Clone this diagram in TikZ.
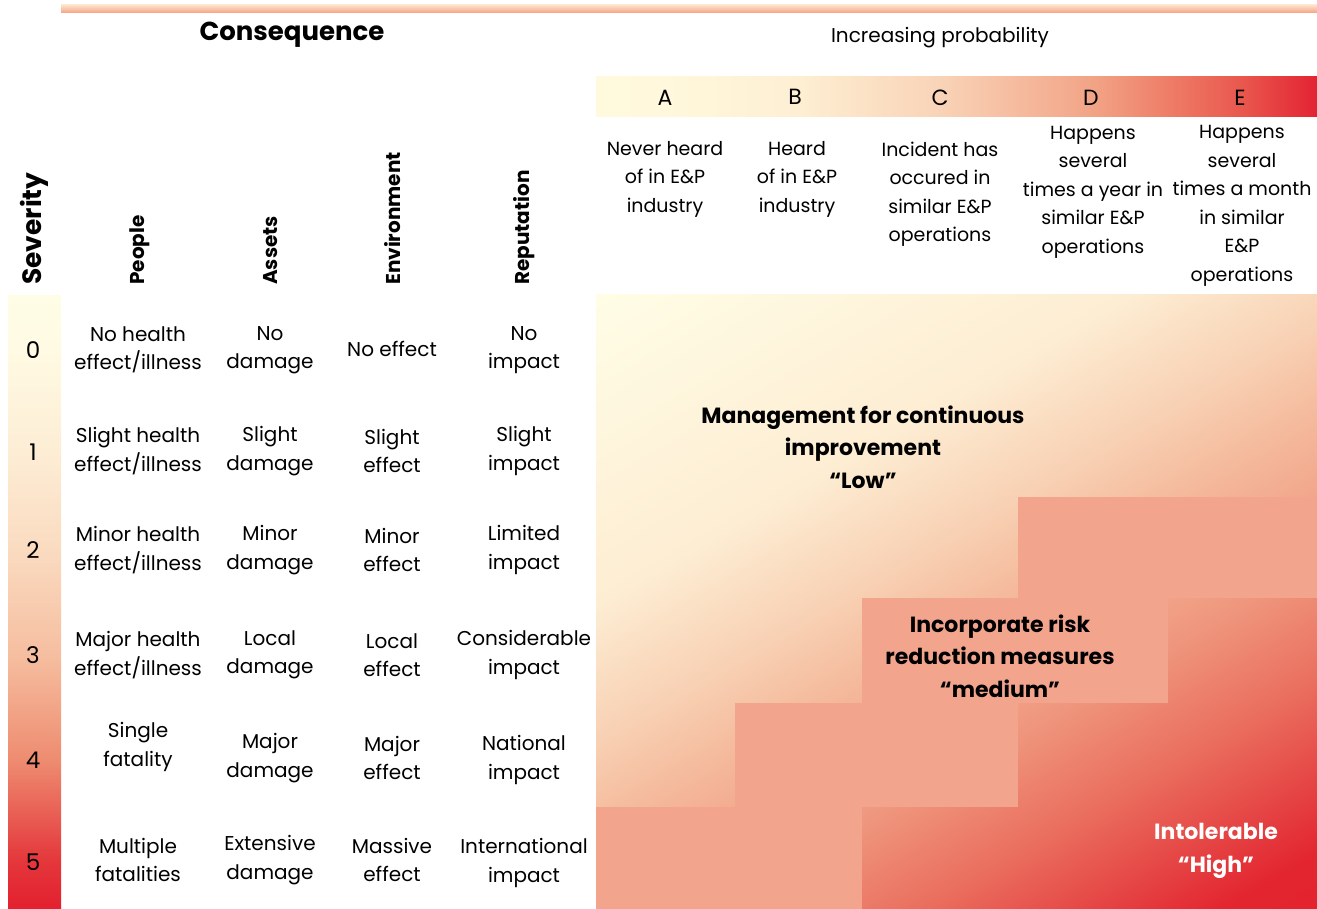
\documentclass[tikz,border=0pt]{standalone}
\usepackage{fontspec}
\setmainfont{Poppins}
\definecolor{cream}{HTML}{FFFDE6}
\definecolor{riskred}{HTML}{E3202F}
\definecolor{medsalmon}{HTML}{F2A48D}
\definecolor{ma}{HTML}{FDEDD3}
\definecolor{mb}{HTML}{F8D0B3}
\definecolor{mc}{HTML}{F4B598}
\definecolor{md}{HTML}{EF977E}
\definecolor{me}{HTML}{EA6E5E}
\definecolor{mf}{HTML}{E54343}
\definecolor{mg}{HTML}{E3252F}
\definecolor{ha}{HTML}{FFF9DE}
\definecolor{hb}{HTML}{FFF8DC}
\definecolor{hc}{HTML}{FEEFD3}
\definecolor{hd}{HTML}{F9D3B7}
\definecolor{he}{HTML}{F2A386}
\definecolor{hf}{HTML}{EE7D67}
\definecolor{hg}{HTML}{E9584E}
\definecolor{hh}{HTML}{E32333}
\definecolor{sa}{HTML}{E4363B}
\definecolor{sb}{HTML}{EE8C70}
\definecolor{sc}{HTML}{F6BEA0}
\definecolor{sd}{HTML}{FADBC0}
\definecolor{se}{HTML}{FDEDD5}
\definecolor{sf}{HTML}{FFFAE3}
\definecolor{bartop}{HTML}{FCE2CB}
\definecolor{barbot}{HTML}{F4A283}
\pgfdeclarehorizontalshading{matrixshade}{100bp}{
  color(0bp)=(cream); color(15.85bp)=(cream);
  color(36.3bp)=(ma); color(45.5bp)=(mb);
  color(52.5bp)=(mc); color(61bp)=(md);
  color(69.1bp)=(me); color(76bp)=(mf);
  color(80.7bp)=(mg); color(100bp)=(riskred)}
\pgfdeclarehorizontalshading{headershade}{100bp}{
  color(0bp)=(ha); color(25bp)=(ha);
  color(29.8bp)=(hb); color(38.9bp)=(hc);
  color(48.9bp)=(hd); color(59.5bp)=(he);
  color(64.7bp)=(hf); color(69.7bp)=(hg);
  color(75bp)=(hh); color(100bp)=(hh)}
\pgfdeclareverticalshading{sevshade}{100bp}{
  color(0bp)=(riskred); color(25bp)=(riskred);
  color(28.8bp)=(sa); color(37.2bp)=(sb);
  color(45.7bp)=(sc); color(54.3bp)=(sd);
  color(62.3bp)=(se); color(70.6bp)=(sf);
  color(75bp)=(cream); color(100bp)=(cream)}
\tikzset{
  cell/.style={align=center, inner sep=0pt, font=\fontsize{20}{28.5}\selectfont},
  probdesc/.style={align=center, inner sep=0pt, font=\fontsize{19}{28.5}\selectfont},
  letter/.style={inner sep=0pt, font=\fontsize{22}{24}\selectfont},
  sevnum/.style={inner sep=0pt, font=\fontsize{23}{24}\selectfont},
  colhead/.style={rotate=90, anchor=west, inner sep=0pt, font=\bfseries\fontsize{20}{22}\selectfont},
  region/.style={align=center, inner sep=0pt, font=\bfseries\fontsize{22}{32.5}\selectfont},
}
\begin{document}
\begin{tikzpicture}[x=1pt,y=-1pt]
\useasboundingbox (0,0) rectangle (1317,909);
% top bar
\shade[top color=bartop, bottom color=barbot] (61,5) rectangle (1317,13);
% headers
\node[inner sep=0pt, font=\bfseries\fontsize{26}{30}\selectfont] (conseq) at (292,35) {Consequence};
\node[inner sep=0pt, font=\fontsize{20}{22}\selectfont] (incprob) at (940,38) {Increasing probability};
% probability band
\fill[shading=headershade] (596,77) rectangle (1317,117);
\node[letter] (la) at (665,98) {A};
\node[letter] (lb) at (795,97) {B};
\node[letter] (lc) at (940,98) {C};
\node[letter] (ld) at (1091,98) {D};
\node[letter] (le) at (1240,98) {E};
\node[probdesc] (pa) at (665,179) {Never heard\\of in E\&P\\industry};
\node[probdesc] (pb) at (797,179) {Heard\\of in E\&P\\industry};
\node[probdesc] (pc) at (940,194) {Incident has\\occured in\\similar E\&P\\operations};
\node[probdesc] (pd) at (1093,192) {Happens\\several\\times a year in\\similar E\&P\\operations};
\node[probdesc] (pe) at (1242,206) {Happens\\several\\times a month\\in similar\\E\&P\\operations};
% column headers
\node[colhead, font=\bfseries\fontsize{26.5}{28}\selectfont] (sev) at (34,285) {Severity};
\node[colhead] (hpeople) at (140,285) {People};
\node[colhead] (hassets) at (271,285) {Assets};
\node[colhead] (henv) at (393,285) {Environment};
\node[colhead] (hrep) at (524,285) {Reputation};
% severity strip
\fill[shading=sevshade] (8,296) rectangle (61,909);
\node[sevnum] (s0) at (33,350) {0};
\node[sevnum] (s1) at (33,452) {1};
\node[sevnum] (s2) at (33,550) {2};
\node[sevnum] (s3) at (33,655) {3};
\node[sevnum] (s4) at (33,760) {4};
\node[sevnum] (s5) at (33,862) {5};
% matrix background
\fill[shading=matrixshade, shading angle=-60] (596,295) rectangle (1317,909);
\fill[medsalmon] (1018,497) rectangle (1317,598);
\fill[medsalmon] (862,598) rectangle (1168,703);
\fill[medsalmon] (735,703) rectangle (1018,807);
\fill[medsalmon] (596,807) rectangle (862,909);
% consequence cells
\node[cell] (c00) at (138,350) {No health\\effect/illness};
\node[cell] (c01) at (270,350) {No\\damage};
\node[cell] (c02) at (392,349) {No effect};
\node[cell] (c03) at (524,350) {No\\impact};
\node[cell] (c10) at (138,451) {Slight health\\effect/illness};
\node[cell] (c11) at (270,451) {Slight\\damage};
\node[cell] (c12) at (392,451) {Slight\\effect};
\node[cell] (c13) at (524,451) {Slight\\impact};
\node[cell] (c20) at (138,550) {Minor health\\effect/illness};
\node[cell] (c21) at (270,550) {Minor\\damage};
\node[cell] (c22) at (392,550) {Minor\\effect};
\node[cell] (c23) at (524,550) {Limited\\impact};
\node[cell] (c30) at (138,655) {Major health\\effect/illness};
\node[cell] (c31) at (270,655) {Local\\damage};
\node[cell] (c32) at (392,655) {Local\\effect};
\node[cell] (c33) at (524,655) {Considerable\\impact};
\node[cell] (c40) at (138,747) {Single\\fatality};
\node[cell] (c41) at (270,758) {Major\\damage};
\node[cell] (c42) at (392,758) {Major\\effect};
\node[cell] (c43) at (524,760) {National\\impact};
\node[cell] (c50) at (138,860) {Multiple\\fatalities};
\node[cell] (c51) at (270,860) {Extensive\\damage};
\node[cell] (c52) at (392,860) {Massive\\effect};
\node[cell] (c53) at (524,863) {International\\impact};
% region labels
\node[region] (low) at (863,447) {Management for continuous\\improvement\\“Low”};
\node[region] (medium) at (1000,656) {Incorporate risk\\reduction measures\\“medium”};
\node[region, text=white] (high) at (1216,851) {Intolerable\\“High”};
\end{tikzpicture}
\end{document}
